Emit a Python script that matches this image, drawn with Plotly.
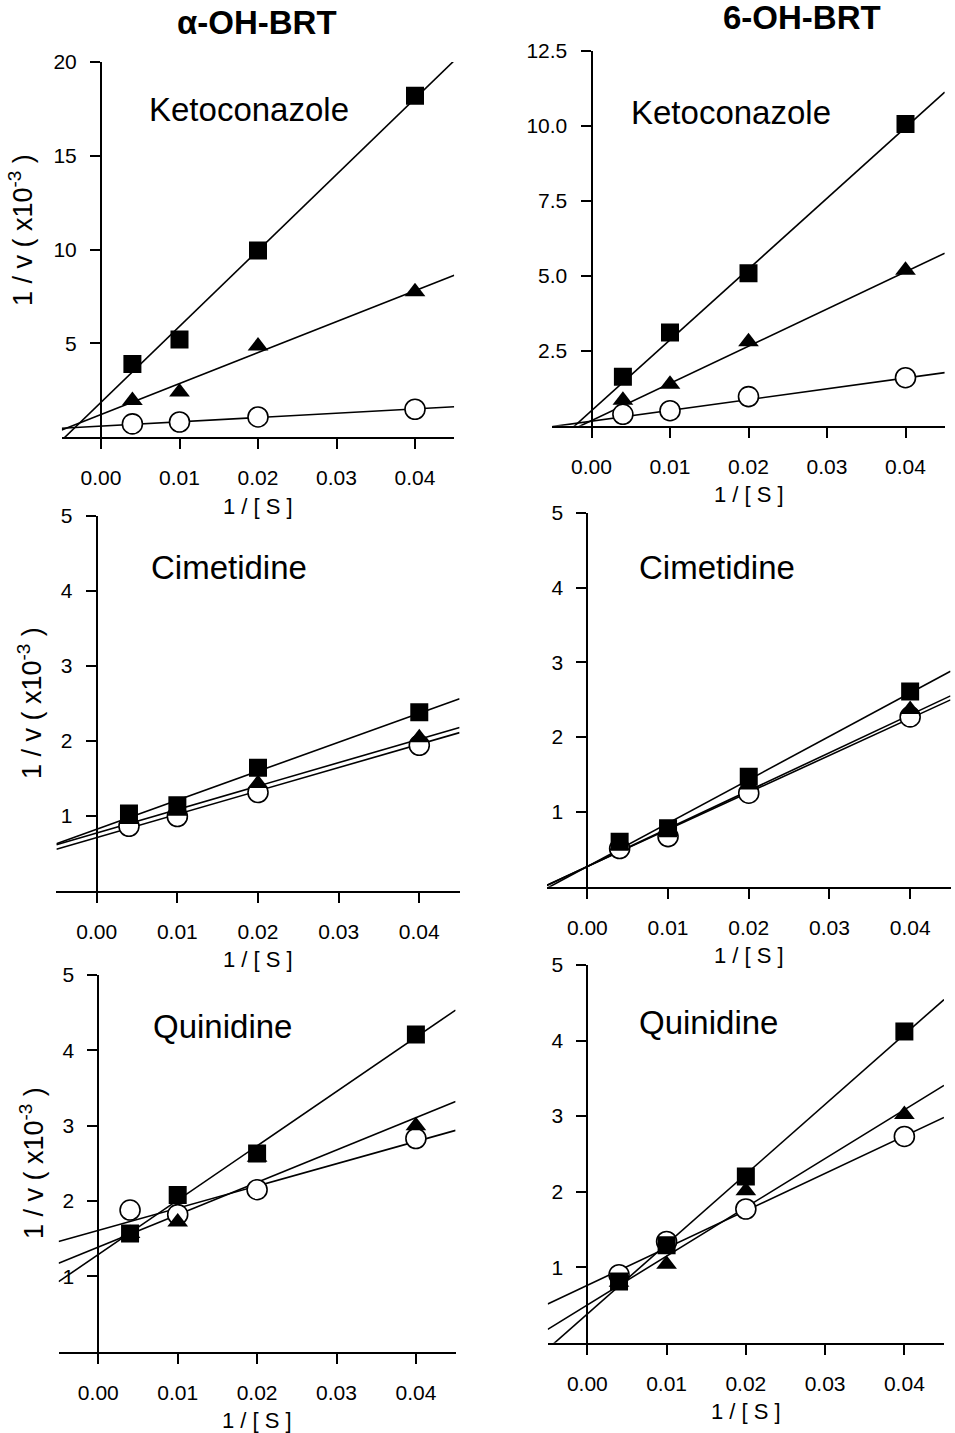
import plotly.graph_objects as go

W, H = 955, 1433

# ---------------- data ----------------
S_inv = [0.004, 0.01, 0.02, 0.04]          # 1/[S]
x_tick_vals = [0.0, 0.01, 0.02, 0.03, 0.04]
x_tick_text = ["0.00", "0.01", "0.02", "0.03", "0.04"]
x_line_ends = [-0.005, 0.045]

column_titles = ["\u03b1-OH-BRT", "6-OH-BRT"]
inhibitors = ["Ketoconazole", "Cimetidine", "Quinidine"]

# alpha-OH-BRT, Ketoconazole
aK_sq = [3.9, 5.2, 9.95, 18.2]
aK_tri = [1.95, 2.4, 4.85, 7.75]
aK_circ = [0.7, 0.8, 1.07, 1.48]
aK_int = [1.85, 1.2, 0.58]        # square, triangle, circle fitted intercepts
aK_slope = [405, 165, 23]

# 6-OH-BRT, Ketoconazole
bK_sq = [1.63, 3.11, 5.08, 10.06]
bK_tri = [0.85, 1.38, 2.8, 5.18]
bK_circ = [0.38, 0.5, 0.97, 1.6]
bK_int = [0.5, 0.17, 0.15]
bK_slope = [236, 124, 36]

# alpha-OH-BRT, Cimetidine
aC_sq = [1.03, 1.14, 1.64, 2.38]
aC_tri = [0.95, 1.06, 1.43, 2.04]
aC_circ = [0.86, 0.99, 1.31, 1.94]
aC_int = [0.82, 0.77, 0.71]
aC_slope = [38.7, 31.3, 31.1]

# 6-OH-BRT, Cimetidine
bC_sq = [0.60, 0.78, 1.47, 2.61]
bC_tri = [0.55, 0.74, 1.36, 2.37]
bC_circ = [0.51, 0.67, 1.25, 2.27]
bC_int = [0.27, 0.27, 0.27]
bC_slope = [58, 50.7, 49.5]

# alpha-OH-BRT, Quinidine
aQ_sq = [1.57, 2.08, 2.63, 4.21]
aQ_tri = [1.57, 1.72, 2.58, 3.0]
aQ_circ = [1.88, 1.82, 2.15, 2.83]
aQ_int = [1.29, 1.39, 1.61]
aQ_slope = [72.1, 42.9, 29.5]

# 6-OH-BRT, Quinidine
bQ_sq = [0.81, 1.29, 2.2, 4.12]
bQ_tri = [0.80, 1.04, 2.01, 3.02]
bQ_circ = [0.9, 1.34, 1.77, 2.73]
bQ_int = [0.38, 0.50, 0.76]
bQ_slope = [92.5, 64.6, 49.4]

y_ranges = [[0, 20], [0, 12.5], [0, 5], [0, 5], [0, 5], [0, 5]]
y_tick_vals = [[5, 10, 15, 20], [2.5, 5.0, 7.5, 10.0, 12.5],
               [1, 2, 3, 4, 5], [1, 2, 3, 4, 5], [1, 2, 3, 4, 5], [1, 2, 3, 4, 5]]
y_tick_fmt = ["d", ".1f", "d", "d", "d", "d"]

panels = [
    dict(sq=aK_sq, tri=aK_tri, circ=aK_circ, b=aK_int, m=aK_slope, label=inhibitors[0]),
    dict(sq=bK_sq, tri=bK_tri, circ=bK_circ, b=bK_int, m=bK_slope, label=inhibitors[0]),
    dict(sq=aC_sq, tri=aC_tri, circ=aC_circ, b=aC_int, m=aC_slope, label=inhibitors[1]),
    dict(sq=bC_sq, tri=bC_tri, circ=bC_circ, b=bC_int, m=bC_slope, label=inhibitors[1]),
    dict(sq=aQ_sq, tri=aQ_tri, circ=aQ_circ, b=aQ_int, m=aQ_slope, label=inhibitors[2]),
    dict(sq=bQ_sq, tri=bQ_tri, circ=bQ_circ, b=bQ_int, m=bQ_slope, label=inhibitors[2]),
]

# ---------------- layout geometry (pixels) ----------------
# left, right, top, bottom of each plot area
boxes = [
    (61.75, 454.25, 62.0, 437.0),
    (552.25, 944.75, 50.7, 425.7),
    (56.4, 459.6, 516.0, 890.7),
    (547.0, 950.5, 512.7, 886.7),
    (58.6, 455.6, 975.0, 1351.7),
    (547.7, 944.0, 965.0, 1342.7),
]
label_pos = [(249, 110), (731, 113), (229, 568), (717, 567), (222, 1026), (708, 1022)]
ytitle_pos = {0: (21, 230), 2: (30, 703), 4: (32, 1163)}

FONT = "Liberation Sans, Arial, Helvetica, sans-serif"
XR = [-0.005, 0.045]

fig = go.Figure()
layout = dict(width=W, height=H, margin=dict(l=0, r=0, t=0, b=0, autoexpand=False),
              paper_bgcolor="white", plot_bgcolor="white", showlegend=False,
              font=dict(family=FONT, color="black"))
annotations = []

for i, p in enumerate(panels):
    k = i + 1
    xa = "x" if k == 1 else f"x{k}"
    ya = "y" if k == 1 else f"y{k}"
    L, R, T, B = boxes[i]
    dx = [L / W, R / W]
    dy = [1 - B / H, 1 - T / H]

    # regression lines
    for b, m in zip(p["b"], p["m"]):
        fig.add_trace(go.Scatter(
            x=x_line_ends, y=[b + m * xv for xv in x_line_ends],
            mode="lines", line=dict(color="black", width=1.6),
            xaxis=xa, yaxis=ya, hoverinfo="skip"))
    # markers
    fig.add_trace(go.Scatter(x=S_inv, y=p["circ"], mode="markers",
                             marker=dict(symbol="circle", size=20, color="white",
                                         line=dict(color="black", width=1.6)),
                             xaxis=xa, yaxis=ya))
    fig.add_trace(go.Scatter(x=S_inv, y=p["tri"], mode="markers",
                             marker=dict(symbol="triangle-up", size=18, color="black",
                                         line=dict(color="black", width=0)),
                             xaxis=xa, yaxis=ya))
    fig.add_trace(go.Scatter(x=S_inv, y=p["sq"], mode="markers",
                             marker=dict(symbol="square", size=18, color="black",
                                         line=dict(color="black", width=0)),
                             xaxis=xa, yaxis=ya))

    ypos = dx[0] + (0 - XR[0]) / (XR[1] - XR[0]) * (dx[1] - dx[0])
    layout["xaxis" if k == 1 else f"xaxis{k}"] = dict(
        domain=dx, range=XR, anchor=ya, showgrid=False, zeroline=False,
        showline=True, linecolor="black", linewidth=2,
        ticks="outside", ticklen=10, tickwidth=1.5, tickcolor="black",
        tickvals=x_tick_vals, ticktext=x_tick_text, ticklabelstandoff=11,
        tickfont=dict(size=21, family=FONT, color="black"), fixedrange=True)
    layout["yaxis" if k == 1 else f"yaxis{k}"] = dict(
        domain=dy, range=y_ranges[i], anchor="free", position=ypos,
        showgrid=False, zeroline=False,
        showline=True, linecolor="black", linewidth=2,
        ticks="outside", ticklen=10, tickwidth=1.5, tickcolor="black",
        tickvals=y_tick_vals[i], tickformat=y_tick_fmt[i], ticklabelstandoff=9,
        tickfont=dict(size=21, family=FONT, color="black"), fixedrange=True)

    # inhibitor label
    lx, ly = label_pos[i]
    annotations.append(dict(x=lx / W, y=1 - ly / H, xref="paper", yref="paper",
                            text=p["label"], showarrow=False,
                            font=dict(size=33, family=FONT, color="black"),
                            xanchor="center", yanchor="middle"))
    # x-axis title
    annotations.append(dict(x=(L + R) / 2 / W, y=1 - (B + 69) / H, xref="paper", yref="paper",
                            text="1 / [ S ]", showarrow=False,
                            font=dict(size=22, family=FONT, color="black"),
                            xanchor="center", yanchor="middle"))
    if i in ytitle_pos:
        tx, ty = ytitle_pos[i]
        annotations.append(dict(x=tx / W, y=1 - ty / H, xref="paper", yref="paper",
                                text="1 / v ( x10<sup>-3</sup> )", showarrow=False, textangle=-90,
                                font=dict(size=27, family=FONT, color="black"),
                                xanchor="center", yanchor="middle"))

annotations.append(dict(x=257 / W, y=1 - 22 / H, xref="paper", yref="paper",
                        text="<b>" + column_titles[0] + "</b>", showarrow=False,
                        font=dict(size=33, family=FONT, color="black"),
                        xanchor="center", yanchor="middle"))
annotations.append(dict(x=802 / W, y=1 - 18 / H, xref="paper", yref="paper",
                        text="<b>" + column_titles[1] + "</b>", showarrow=False,
                        font=dict(size=33, family=FONT, color="black"),
                        xanchor="center", yanchor="middle"))

layout["annotations"] = annotations
fig.update_layout(**layout)

post = ("document.documentElement.style.margin='0px';"
        "document.body.style.margin='0px';document.body.style.padding='0px';"
        "var gd=document.querySelector('.plotly-graph-div');"
        "gd.style.position='absolute';gd.style.top='0px';gd.style.left='0px';")
fig.write_html("out.html", config={"displayModeBar": False}, post_script=post)
